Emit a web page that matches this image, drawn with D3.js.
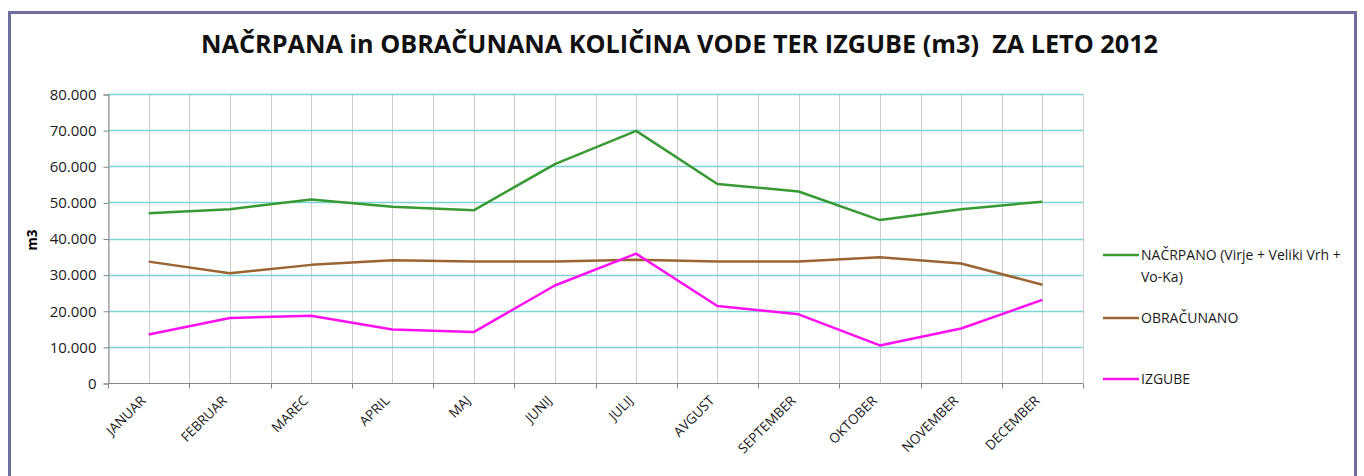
<!DOCTYPE html>
<html>
<head>
<meta charset="utf-8">
<script src="https://cdn.jsdelivr.net/npm/d3@7"></script>
<style>
  body { margin: 0; background: #fff; }
  svg { display: block; }
</style>
</head>
<body>
<svg id="chart"></svg>
<script>
var months = ["JANUAR", "FEBRUAR", "MAREC", "APRIL", "MAJ", "JUNIJ",
              "JULIJ", "AVGUST", "SEPTEMBER", "OKTOBER", "NOVEMBER", "DECEMBER"];

var nacrpano   = [47000, 48100, 50800, 48800, 47800, 60600, 69800, 55100, 53000, 45100, 48100, 50200];
var obracunano = [33600, 30400, 32700, 34000, 33600, 33600, 34100, 33600, 33600, 34800, 33100, 27200];
var izgube     = [13400, 18000, 18600, 14800, 14100, 27000, 35800, 21300, 19000, 10400, 15100, 23000];

var yTicks = [0, 10000, 20000, 30000, 40000, 50000, 60000, 70000, 80000];

var series = [
  { name: ["NAČRPANO (Virje + Veliki Vrh +", "Vo-Ka)"], values: nacrpano, color: "#379a33", ly: 255 },
  { name: ["OBRAČUNANO"], values: obracunano, color: "#9b6532", ly: 318 },
  { name: ["IZGUBE"], values: izgube, color: "#ff10f0", ly: 379 }
];

var width = 1364,
    height = 476;

var svg = d3.select("#chart")
  .attr("width", width)
  .attr("height", height)
  .style("font-family", "'Open Sans', sans-serif");

// chart frame
svg.append("rect")
  .attr("x", 9.5)
  .attr("y", 12.5)
  .attr("width", 1346)
  .attr("height", 480)
  .style("fill", "none")
  .style("stroke", "#6f6f9f")
  .style("stroke-width", 3);

svg.append("text")
  .attr("x", 201)
  .attr("y", 53)
  .attr("textLength", 957)
  .attr("lengthAdjust", "spacingAndGlyphs")
  .style("white-space", "pre")
  .style("font-size", "25px")
  .style("font-weight", "bold")
  .style("fill", "#111")
  .text("NAČRPANA in OBRAČUNANA KOLIČINA VODE TER IZGUBE (m3)  ZA LETO 2012");

var plot = { left: 108, right: 1083, top: 94, bottom: 383 };

var x = d3.scaleBand()
  .domain(months)
  .range([plot.left, plot.right]);

var y = d3.scaleLinear()
  .domain([0, 80000])
  .range([plot.bottom, plot.top]);

var g = svg.append("g");

// vertical grid: boundaries and centres
var vLines = [];
months.forEach(function (m) {
  vLines.push(x(m));
  vLines.push(x(m) + x.bandwidth() / 2);
});
vLines.push(plot.right);

g.selectAll(".vgrid")
  .data(vLines)
  .enter().append("line")
  .attr("class", "vgrid")
  .attr("x1", function (d) { return Math.round(d) + 0.5; })
  .attr("x2", function (d) { return Math.round(d) + 0.5; })
  .attr("y1", plot.top)
  .attr("y2", plot.bottom)
  .style("stroke", "#cccccc")
  .style("stroke-width", 1);

g.selectAll(".hgrid")
  .data(yTicks.slice(1))
  .enter().append("line")
  .attr("class", "hgrid")
  .attr("x1", plot.left)
  .attr("x2", plot.right)
  .attr("y1", function (d) { return Math.round(y(d)) + 0.5; })
  .attr("y2", function (d) { return Math.round(y(d)) + 0.5; })
  .style("stroke", "#7dd4d4")
  .style("stroke-width", 1.5);

// y axis
var yAxis = d3.axisLeft(y)
  .tickValues(yTicks)
  .tickSize(5)
  .tickPadding(7)
  .tickFormat(function (d) { return d === 0 ? "0" : d3.format(",")(d).replace(/,/g, "."); });

var ya = svg.append("g")
  .attr("transform", "translate(" + (plot.left + 0.5) + ",0.5)")
  .call(yAxis);
ya.select(".domain").style("stroke", "#868686");
ya.selectAll(".tick line").style("stroke", "#868686");
ya.selectAll("text")
  .style("font-size", "15px")
  .style("fill", "#1a1a1a")
  .style("font-family", "'Open Sans', sans-serif");

svg.append("text")
  .attr("transform", "translate(37,240) rotate(-90)")
  .attr("text-anchor", "middle")
  .style("font-size", "13.5px")
  .style("font-weight", "bold")
  .text("m3");

// x axis
var xa = svg.append("g")
  .attr("transform", "translate(0," + (plot.bottom + 0.5) + ")");
xa.append("line")
  .attr("x1", plot.left)
  .attr("x2", plot.right)
  .style("stroke", "#868686");
xa.selectAll(".xtick")
  .data(vLines.filter(function (d, i) { return i % 2 === 0; }))
  .enter().append("line")
  .attr("x1", function (d) { return Math.round(d) + 0.5; })
  .attr("x2", function (d) { return Math.round(d) + 0.5; })
  .attr("y1", 0)
  .attr("y2", 5)
  .style("stroke", "#868686");

xa.selectAll(".xlabel")
  .data(months)
  .enter().append("text")
  .attr("text-anchor", "end")
  .attr("transform", function (d) {
    return "translate(" + (x(d) + x.bandwidth() / 2 - 2) + ",18) rotate(-45)";
  })
  .style("font-size", "13.5px")
  .style("fill", "#1a1a1a")
  .text(function (d) { return d; });

// lines
var line = d3.line()
  .x(function (d, i) { return x(months[i]) + x.bandwidth() / 2; })
  .y(function (d) { return y(d); });

svg.selectAll(".series")
  .data(series)
  .enter().append("path")
  .attr("class", "series")
  .attr("d", function (s) { return line(s.values); })
  .style("fill", "none")
  .style("stroke", function (s) { return s.color; })
  .style("stroke-width", 2.5)
  .style("stroke-linejoin", "round");

// legend
var leg = svg.selectAll(".legend")
  .data(series)
  .enter().append("g")
  .attr("class", "legend");

leg.append("line")
  .attr("x1", 1103)
  .attr("x2", 1139)
  .attr("y1", function (s) { return s.ly; })
  .attr("y2", function (s) { return s.ly; })
  .style("stroke", function (s) { return s.color; })
  .style("stroke-width", 2.5);

leg.append("text")
  .attr("x", 1141)
  .attr("y", function (s) { return s.ly + 5; })
  .style("font-size", "14px")
  .style("fill", "#1a1a1a")
  .selectAll("tspan")
  .data(function (s) { return s.name; })
  .enter().append("tspan")
  .attr("x", 1141)
  .attr("dy", function (d, i) { return i === 0 ? 0 : 22; })
  .text(function (d) { return d; });
</script>
</body>
</html>
